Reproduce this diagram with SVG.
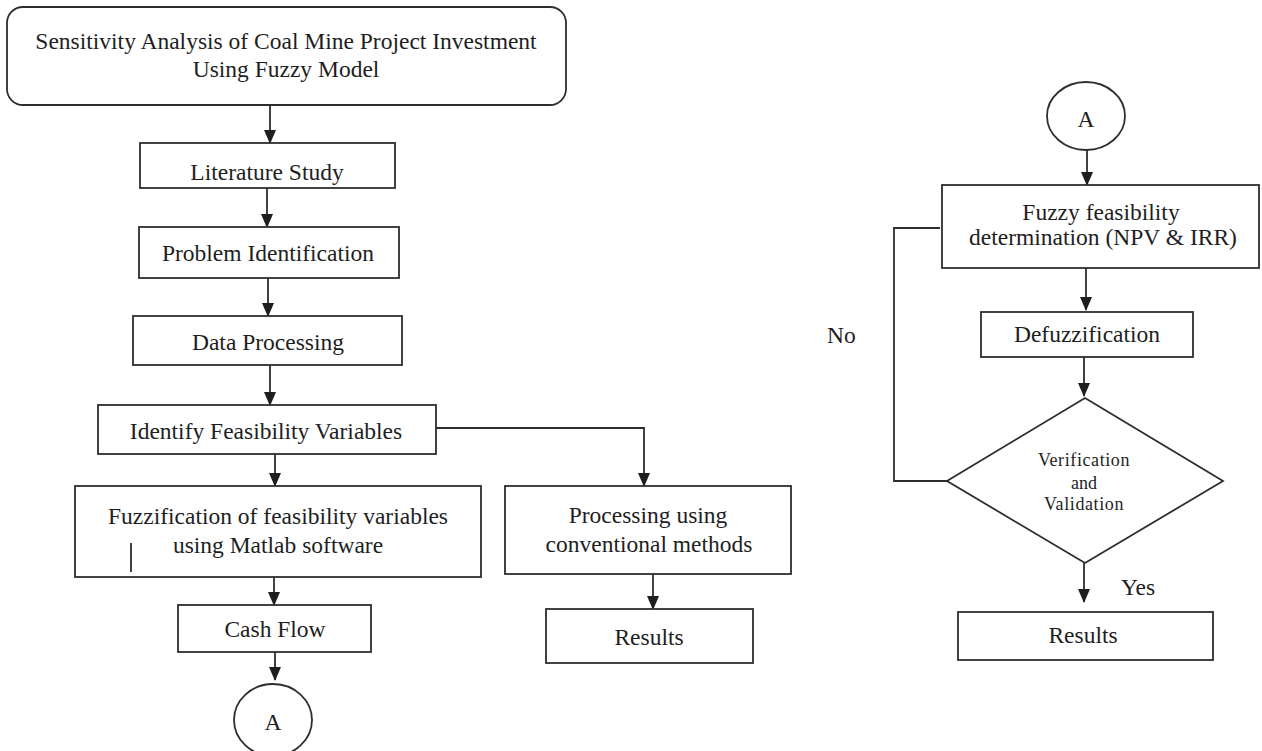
<svg xmlns="http://www.w3.org/2000/svg" width="1262" height="751" viewBox="0 0 1262 751">
<style>
.box{fill:#fff;stroke:#2e2e2e;stroke-width:1.8}
.ln{fill:none;stroke:#2e2e2e;stroke-width:1.8}
.t{font-family:"Liberation Serif","Times New Roman",serif;font-size:23.5px;fill:#1e1e1e;text-anchor:middle}
.s{font-family:"Liberation Serif","Times New Roman",serif;font-size:18px;fill:#1e1e1e;text-anchor:middle}
.l{font-family:"Liberation Serif","Times New Roman",serif;font-size:23.5px;fill:#1e1e1e}
</style>
<defs>
<marker id="ah" markerUnits="userSpaceOnUse" markerWidth="12" markerHeight="14" refX="6" refY="13" orient="auto-start-reverse" viewBox="0 0 12 14">
<path d="M0,0 L12,0 L6,14 Z" fill="#1e1e1e" transform="rotate(0)"/>
</marker>
<marker id="arr" markerUnits="userSpaceOnUse" markerWidth="14" markerHeight="12" refX="13" refY="6" orient="auto" viewBox="0 0 14 12">
<path d="M0,0 L14,6 L0,12 Z" fill="#1e1e1e"/>
</marker>
</defs>
<rect width="1262" height="751" fill="#fff"/>

<g id="connectors">
<line class="ln" x1="270" y1="105" x2="270" y2="143" marker-end="url(#arr)"/>
<line class="ln" x1="267" y1="188" x2="267" y2="227" marker-end="url(#arr)"/>
<line class="ln" x1="268" y1="278" x2="268" y2="316" marker-end="url(#arr)"/>
<line class="ln" x1="270" y1="365" x2="270" y2="405" marker-end="url(#arr)"/>
<polyline class="ln" points="436,428 644,428 644,486" marker-end="url(#arr)"/>
<line class="ln" x1="275" y1="454" x2="275" y2="486" marker-end="url(#arr)"/>
<line class="ln" x1="274" y1="577" x2="274" y2="605" marker-end="url(#arr)"/>
<line class="ln" x1="275" y1="652" x2="275" y2="680" marker-end="url(#arr)"/>
<line class="ln" x1="653" y1="574" x2="653" y2="609" marker-end="url(#arr)"/>
<line class="ln" x1="1087" y1="150" x2="1087" y2="185" marker-end="url(#arr)"/>
<line class="ln" x1="1086" y1="268" x2="1086" y2="310" marker-end="url(#arr)"/>
<line class="ln" x1="1084" y1="357" x2="1084" y2="396" marker-end="url(#arr)"/>
<line class="ln" x1="1084" y1="563" x2="1084" y2="602" marker-end="url(#arr)"/>
<polyline class="ln" points="947,481 894,481 894,228 940,228"/>
<text class="l" x="827" y="343">No</text>
<text class="l" x="1121" y="595">Yes</text>
</g>

<g id="title">
<rect class="box" x="7" y="7" width="559" height="98" rx="16"/>
<text class="t" x="286" y="49">Sensitivity Analysis of Coal Mine Project Investment</text>
<text class="t" x="286" y="77">Using Fuzzy Model</text>
</g>
<g id="literature">
<rect class="box" x="140" y="143" width="255" height="45"/>
<text class="t" x="267" y="180">Literature Study</text>
</g>
<g id="problem">
<rect class="box" x="139" y="227" width="260" height="51"/>
<text class="t" x="268" y="261">Problem Identification</text>
</g>
<g id="data">
<rect class="box" x="133" y="316" width="269" height="49"/>
<text class="t" x="268" y="350">Data Processing</text>
</g>
<g id="identify">
<rect class="box" x="98" y="405" width="338" height="49"/>
<text class="t" x="266" y="439">Identify Feasibility Variables</text>
</g>
<g id="fuzzification">
<rect class="box" x="75" y="486" width="406" height="91"/>
<text class="t" x="278" y="524">Fuzzification of feasibility variables</text>
<text class="t" x="278" y="553">using Matlab software</text>
<line class="ln" x1="131" y1="543" x2="131" y2="572"/>
</g>
<g id="cashflow">
<rect class="box" x="178" y="605" width="193" height="47"/>
<text class="t" x="275" y="637">Cash Flow</text>
</g>
<g id="connectorA1">
<ellipse class="box" cx="273" cy="720" rx="39" ry="36"/>
<text class="t" x="273" y="730">A</text>
</g>
<g id="processing">
<rect class="box" x="505" y="486" width="286" height="88"/>
<text class="t" x="648" y="523">Processing using</text>
<text class="t" x="649" y="552">conventional methods</text>
</g>
<g id="results1">
<rect class="box" x="546" y="609" width="207" height="54"/>
<text class="t" x="649" y="645">Results</text>
</g>

<g id="connectorA2">
<ellipse class="box" cx="1086" cy="116" rx="39" ry="34"/>
<text class="t" x="1086" y="127">A</text>
</g>
<g id="fuzzyfeas">
<rect class="box" x="942" y="185" width="317" height="83"/>
<text class="t" x="1101" y="220">Fuzzy feasibility</text>
<text class="t" x="1103" y="245">determination (NPV &amp; IRR)</text>
</g>
<g id="defuzz">
<rect class="box" x="981" y="312" width="212" height="45"/>
<text class="t" x="1087" y="342">Defuzzification</text>
</g>
<g id="decision">
<polygon class="box" points="1085,398 1223,481 1085,563 947,481"/>
<text class="s" x="1084" y="466" letter-spacing="0.6">Verification</text>
<text class="s" x="1084" y="489">and</text>
<text class="s" x="1084" y="510" letter-spacing="0.6">Validation</text>
</g>
<g id="results2">
<rect class="box" x="958" y="612" width="255" height="48"/>
<text class="t" x="1083" y="643">Results</text>
</g>
</svg>
